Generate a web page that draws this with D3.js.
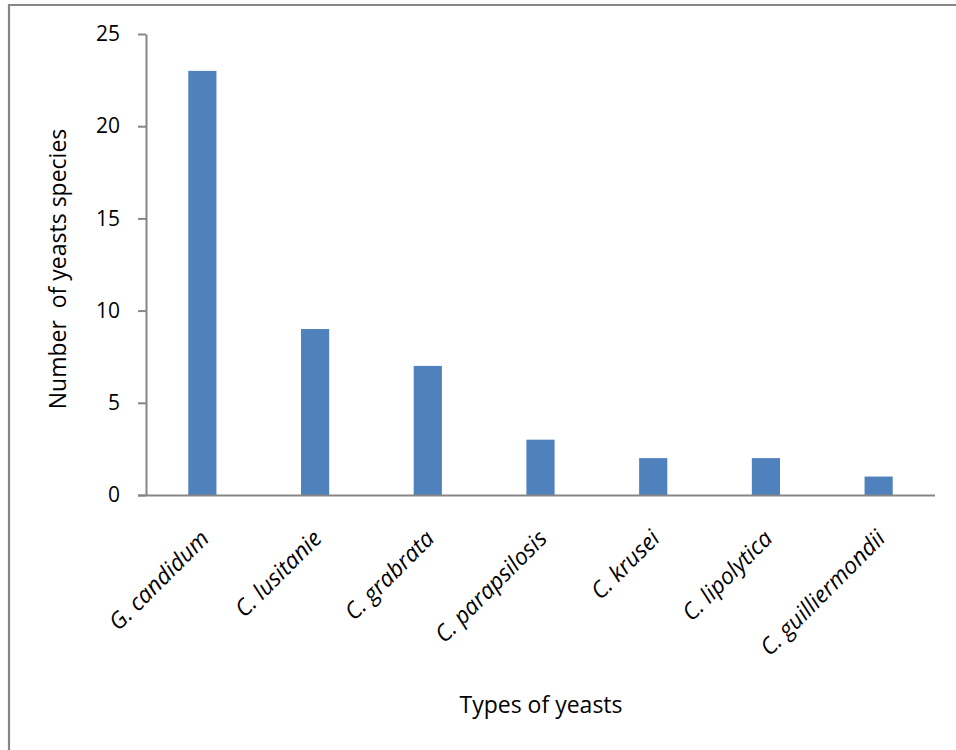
<!DOCTYPE html>
<html>
<head>
<meta charset="utf-8">
<script src="https://cdn.jsdelivr.net/npm/d3@7"></script>
<style>
  html, body { margin: 0; padding: 0; background: #fff; }
  svg { display: block; font-family: "Open Sans", Lato, sans-serif; }
</style>
</head>
<body>
<svg id="chart" width="956" height="750"></svg>
<script>
// Yeast isolates by species
const categories = ["G. candidum", "C. lusitanie", "C. grabrata", "C. parapsilosis", "C. krusei", "C. lipolytica", "C. guilliermondii"];
const counts = [23, 9, 7, 3, 2, 2, 1];
const yTicks = [0, 5, 10, 15, 20, 25];

const svg = d3.select("#chart");
const axisColor = "#868686";
const fontFamily = "'Open Sans', Lato, sans-serif";
const tickFontSize = 21;
const labelFontSize = 23;

// chart area frame
svg.append("path")
  .attr("d", "M9,760 V5 H970")
  .attr("fill", "none")
  .attr("stroke", axisColor)
  .attr("stroke-width", 2.2);

const plotLeft = 146, plotRight = 935, plotTop = 34, plotBottom = 495;

const x = d3.scaleBand().domain(categories).range([plotLeft, plotRight]).paddingInner(0.75).paddingOuter(0.375);
const y = d3.scaleLinear().domain([0, 25]).range([plotBottom, plotTop]);

// bars
svg.append("g").selectAll("rect")
  .data(categories)
  .join("rect")
  .attr("x", d => x(d))
  .attr("width", x.bandwidth())
  .attr("y", (d, i) => y(counts[i]))
  .attr("height", (d, i) => y(0) - y(counts[i]))
  .attr("fill", "#4F81BD");

// y axis
const yAxis = svg.append("g")
  .attr("transform", `translate(${plotLeft},0)`)
  .call(d3.axisLeft(y).tickValues(yTicks).tickSize(8).tickSizeOuter(0).tickPadding(18));
yAxis.select(".domain").attr("stroke", axisColor).attr("stroke-width", 2);
yAxis.selectAll(".tick line").attr("stroke", axisColor).attr("stroke-width", 2);
yAxis.selectAll(".tick text").attr("fill", "#000").attr("font-size", tickFontSize).attr("font-family", fontFamily);

// x axis
const xAxis = svg.append("g")
  .attr("transform", `translate(0,${plotBottom})`)
  .call(d3.axisBottom(x).tickSize(0).tickSizeOuter(0));
xAxis.select(".domain").attr("stroke", axisColor).attr("stroke-width", 2)
  .attr("d", `M${plotLeft - 8},0.5H${plotRight}`);
xAxis.selectAll(".tick text")
  .attr("fill", "#000")
  .attr("font-size", labelFontSize)
  .attr("font-style", "italic")
  .attr("font-family", fontFamily)
  .attr("text-anchor", "end")
  .attr("dy", null)
  .attr("y", 0)
  .attr("transform", "translate(8,45) rotate(-45)");

// axis titles
svg.append("text")
  .attr("transform", `translate(66,${269}) rotate(-90)`)
  .attr("text-anchor", "middle")
  .attr("font-size", labelFontSize)
  .attr("font-family", fontFamily)
  .attr("fill", "#000")
  .style("white-space", "pre")
  .text("Number  of yeasts species");

svg.append("text")
  .attr("x", 541)
  .attr("y", 713)
  .attr("text-anchor", "middle")
  .attr("font-size", labelFontSize)
  .attr("font-family", fontFamily)
  .attr("fill", "#000")
  .text("Types of yeasts");
</script>
</body>
</html>
